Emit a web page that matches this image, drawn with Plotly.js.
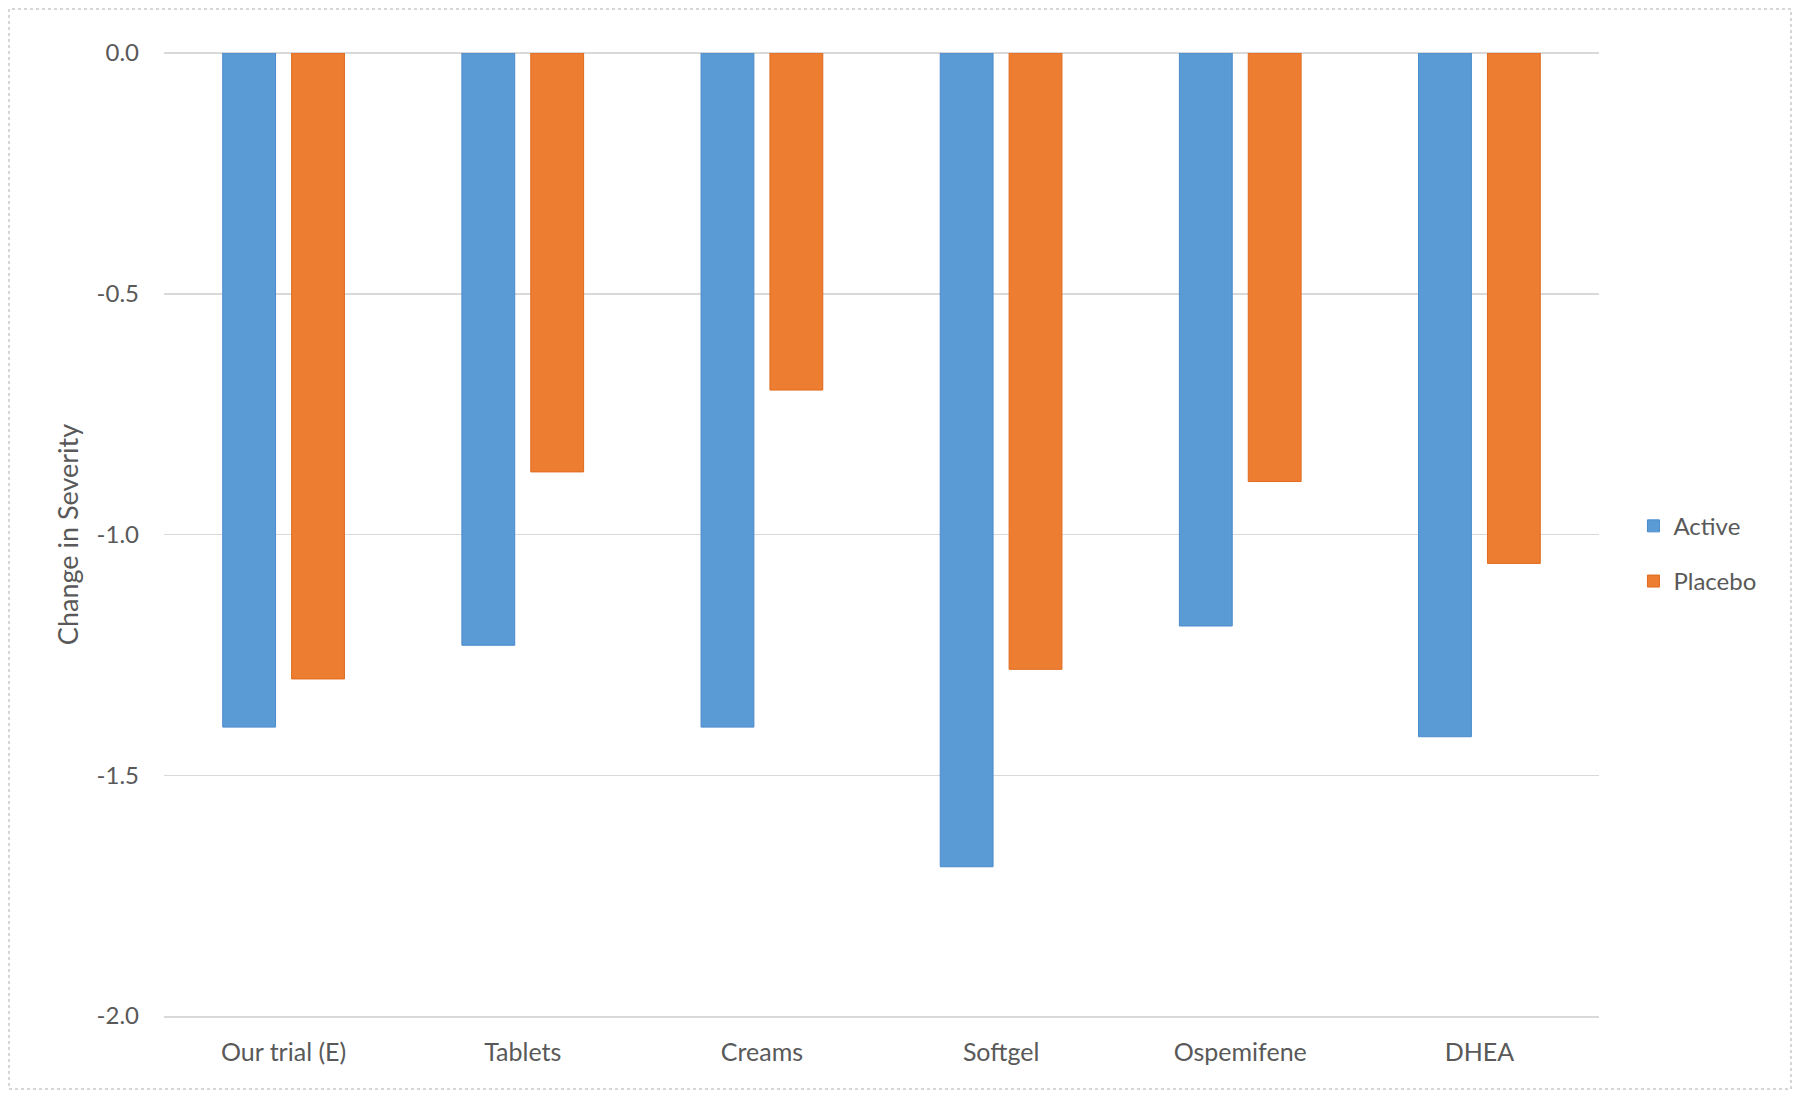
<!DOCTYPE html>
<html>
<head>
<meta charset="utf-8">
<script src="https://cdn.plot.ly/plotly-3.0.1.min.js"></script>
<style>html,body{margin:0;padding:0;background:#fff;}#chart{width:1800px;height:1099px;}</style>
</head>
<body>
<div id="chart"></div>
<script>
const categories = ["Our trial (E)", "Tablets", "Creams", "Softgel", "Ospemifene", "DHEA"];
const activeValues = [-1.40, -1.23, -1.40, -1.69, -1.19, -1.42];
const placeboValues = [-1.30, -0.87, -0.70, -1.28, -0.89, -1.06];
const seriesNames = ["Active", "Placebo"];
const yTickValues = [0, -0.5, -1.0, -1.5, -2.0];
const yTickLabels = ["0.0", "-0.5", "-1.0", "-1.5", "-2.0"];

const font = "Lato, 'Open Sans', sans-serif";
const textColor = "#595959";
const gridColor = "#d9d9d9";

const traces = [
  {
    type: "bar", name: seriesNames[0], x: categories, y: activeValues,
    legendgroup: "a",
    marker: {color: "#5B9BD5", line: {color: "#4A8ACB", width: 1}},
    hoverinfo: "x+y"
  },
  {
    type: "bar", name: seriesNames[1], x: categories, y: placeboValues,
    legendgroup: "b",
    marker: {color: "#ED7D31", line: {color: "#E06A1E", width: 1}},
    hoverinfo: "x+y"
  }
];

const layout = {
  width: 1800, height: 1099,
  paper_bgcolor: "#ffffff", plot_bgcolor: "#ffffff",
  margin: {l: 164, r: 201, t: 53, b: 83},
  barmode: "group",
  bargap: 0.424,
  bargroupgap: 0.233,
  font: {family: font, color: textColor, size: 22},
  xaxis: {
    type: "category",
    showgrid: false, zeroline: false,
    showline: true, linecolor: gridColor, linewidth: 1.5,
    ticks: "", ticklen: 0, ticklabelstandoff: 13,
    tickfont: {family: font, size: 25, color: textColor},
    automargin: false
  },
  yaxis: {
    range: [-2, 0],
    tickvals: yTickValues,
    ticktext: yTickLabels,
    showgrid: true, gridcolor: gridColor, gridwidth: 1.5,
    zeroline: true, zerolinecolor: gridColor, zerolinewidth: 1.5,
    showline: false, ticks: "", ticklabelstandoff: 24,
    tickfont: {family: font, size: 24, color: textColor},
    title: {text: "Change in Severity", font: {family: font, size: 27, color: textColor}, standoff: 10},
    automargin: false
  },
  legend: {
    x: 1.024, xanchor: "left",
    y: 0.48, yanchor: "middle",
    font: {family: font, size: 24, color: textColor},
    traceorder: "grouped",
    tracegroupgap: 21,
    bgcolor: "rgba(0,0,0,0)",
    itemclick: false
  },
  shapes: [
    {
      type: "rect", xref: "paper", yref: "paper",
      x0: -0.108, x1: 1.1338, y0: -0.0758, y1: 1.0457,
      line: {color: "#c8c8c8", width: 1.5, dash: "dot"},
      fillcolor: "rgba(0,0,0,0)", layer: "below"
    }
  ],
  showlegend: true
};

Plotly.newPlot("chart", traces, layout, {displayModeBar: false, staticPlot: true});
</script>
</body>
</html>
